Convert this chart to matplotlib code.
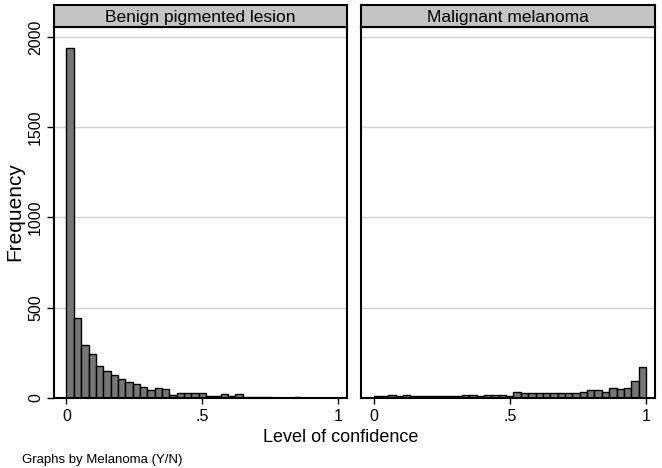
import numpy as np
import matplotlib.pyplot as plt

plt.rcParams['font.family'] = ['Liberation Sans', 'DejaVu Sans']

# histogram counts, 37 equal bins over [0, 1]
n_bins = 37
panel_titles = ["Benign pigmented lesion", "Malignant melanoma"]
benign_counts = [1937, 444, 294, 241, 178, 152, 130, 104, 91, 76,
                 63, 44, 56, 48, 17, 28, 28, 28, 28, 10,
                 10, 20, 10, 22, 5, 5, 5, 5, 0, 0,
                 0, 6, 0, 0, 0, 0, 0]
malignant_counts = [10, 9, 19, 9, 19, 9, 9, 9, 9, 9,
                    9, 9, 16, 16, 9, 15, 15, 15, 11, 36,
                    27, 27, 27, 27, 27, 27, 27, 27, 36, 43,
                    43, 34, 57, 50, 56, 92, 172]
y_ticks = [0, 500, 1000, 1500, 2000]
x_ticks = [0, 0.5, 1]
x_tick_labels = ["0", ".5", "1"]

W, H = 662, 468


def px_box(l, t, r, b):
    return [l / W, 1 - b / H, (r - l) / W, (b - t) / H]


fig = plt.figure(figsize=(W / 100, H / 100), dpi=100)

plot_boxes = [(54, 27, 347, 398), (361, 27, 655, 398)]
head_boxes = [(54, 5, 347, 27), (361, 5, 655, 27)]
edges = np.arange(n_bins) / n_bins
width = 1 / n_bins

for i, counts in enumerate([benign_counts, malignant_counts]):
    ax = fig.add_axes(px_box(*plot_boxes[i]))
    ax.bar(edges, counts, width=width, align='edge', color='#767676',
           edgecolor='black', linewidth=1.0)
    ax.set_xlim(-0.046, 1.033)
    ax.set_ylim(0, 2055)
    ax.set_yticks(y_ticks)
    ax.set_xticks(x_ticks)
    ax.set_xticklabels(x_tick_labels, fontsize=11.5)
    ax.set_axisbelow(True)
    ax.yaxis.grid(True, color='#d2d2d2', linewidth=1.0)
    ax.tick_params(axis='x', length=4.5, width=1.0, pad=3.5)
    if i == 0:
        ax.set_yticklabels([str(v) for v in y_ticks], fontsize=11.5)
        plt.setp(ax.get_yticklabels(), rotation=90, va='center', ha='right')
        ax.tick_params(axis='y', length=5, width=1.0, pad=3)
    else:
        ax.tick_params(axis='y', length=0, labelleft=False)
    for sp in ax.spines.values():
        sp.set_color('black')
        sp.set_linewidth(1.5)

    hx = fig.add_axes(px_box(*head_boxes[i]))
    hx.set_facecolor('#c4c4c4')
    hx.set_xticks([])
    hx.set_yticks([])
    for sp in hx.spines.values():
        sp.set_color('black')
        sp.set_linewidth(1.5)
    hx.text(0.5, 0.45, panel_titles[i], ha='center', va='center', fontsize=12.5,
            transform=hx.transAxes)

fig.text(341 / W, 1 - 438 / H, "Level of confidence", ha='center', va='center',
         fontsize=13)
fig.text(15 / W, 1 - 212 / H, "Frequency", ha='center', va='center',
         rotation=90, fontsize=15)
fig.text(22 / W, 1 - 460 / H, "Graphs by Melanoma (Y/N)", ha='left', va='center',
         fontsize=9.5)

fig.savefig("out.png", dpi=100, facecolor='white')
